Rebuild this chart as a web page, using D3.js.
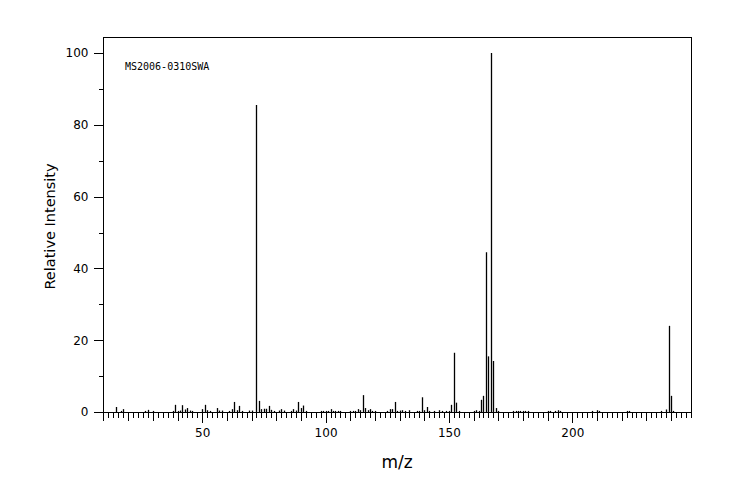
<!DOCTYPE html>
<html><head><meta charset="utf-8">
<script src="https://cdn.jsdelivr.net/npm/d3@7"></script>
<style>body{margin:0;background:#fff}svg{display:block}</style>
</head><body>
<script>
const mz = [15,17,18,27,28,30,38,39,40,41,42,43,44,45,46,50,51,52,53,56,57,58,61,62,63,64,65,66,69,70,
72,73,74,75,76,77,78,79,81,82,83,86,87,88,89,90,91,92,98,99,100,101,102,103,104,105,106,
110,111,112,113,114,115,116,117,118,119,120,125,126,127,128,129,130,131,132,134,137,138,139,140,141,142,144,146,147,149,150,
151,152,153,154,160,161,162,163,164,165,166,167,168,169,170,176,177,178,179,180,181,182,
190,191,193,194,195,208,210,211,222,223,236,238,239,240,241];
const intensity = [1.4,0.3,0.8,0.3,0.6,0.3,0.3,2.0,0.3,0.4,1.9,0.7,1.1,0.4,0.3,0.8,2.0,0.5,0.3,1.1,0.4,0.4,0.3,0.8,2.8,0.5,1.7,0.3,0.4,0.4,
85.5,3.1,0.8,0.9,0.9,1.7,0.6,0.3,0.4,0.8,0.4,0.3,0.8,0.4,2.8,1.1,1.8,0.3,0.3,0.3,0.3,0.3,0.8,0.3,0.3,0.3,0.3,
0.3,0.3,0.3,0.8,0.5,4.7,1.1,0.5,0.8,0.3,0.3,0.3,0.8,0.8,2.8,0.3,0.4,0.5,0.3,0.5,0.3,0.3,4.1,0.5,1.4,0.3,0.3,0.5,0.3,0.3,0.3,
2.0,16.5,2.6,0.3,0.3,0.5,0.3,3.4,4.5,44.5,15.5,100,14.2,1.1,0.3,0.3,0.3,0.3,0.3,0.3,0.3,0.3,
0.3,0.3,0.3,0.5,0.3,0.3,0.5,0.3,0.3,0.3,0.3,0.7,24.0,4.5,0.3];
const xLabelTicks = [50,100,150,200];
const yLabelTicks = [0,20,40,60,80,100];
const sampleId = "MS2006-0310SWA";
const xTitle = "m/z";
const yTitle = "Relative Intensity";

const W = 744, H = 500;
const mLeft = 103, mRight = 691, mTop = 37, mBottom = 412;
const svg = d3.select("body").append("svg").attr("width", W).attr("height", H);

const x = d3.scaleLinear().domain([9.8, 248.1]).range([mLeft, mRight]);
const y = d3.scaleLinear().domain([0, 100]).range([mBottom, 53]);

const font = "'DejaVu Sans', sans-serif";

// frame
svg.append("rect").attr("x", mLeft + 0.5).attr("y", mTop + 0.5)
  .attr("width", mRight - mLeft).attr("height", mBottom - mTop)
  .attr("fill", "none").attr("stroke", "#000").attr("stroke-width", 1)
  .attr("shape-rendering", "crispEdges");

// x axis ticks
const xMinor = d3.range(10, 249, 2);
const xMid = d3.range(10, 249, 10);
function xAxis(vals, size, labels) {
  const g = svg.append("g").attr("transform", `translate(0,${mBottom + 0.5})`)
    .call(d3.axisBottom(x).tickValues(vals).tickSize(size).tickPadding(6)
      .tickFormat(labels ? d3.format("d") : () => ""));
  g.select(".domain").remove();
  g.selectAll("line").attr("shape-rendering", "crispEdges");
  g.selectAll("text").attr("font-family", font).attr("font-size", 12).attr("fill", "#000");
}
xAxis(xMinor, 5, false);
xAxis(xMid, 8, false);
xAxis(xLabelTicks, 10, true);

// y axis ticks
function yAxis(vals, size, labels) {
  const g = svg.append("g").attr("transform", `translate(${mLeft + 0.5},0)`)
    .call(d3.axisLeft(y).tickValues(vals).tickSize(size).tickPadding(5)
      .tickFormat(labels ? d3.format("d") : () => ""));
  g.select(".domain").remove();
  g.selectAll("line").attr("shape-rendering", "crispEdges");
  g.selectAll("text").attr("font-family", font).attr("font-size", 12).attr("fill", "#000");
}
yAxis([10,30,50,70,90], 5, false);
yAxis(yLabelTicks, 10, true);

// bars
const data = mz.map((m, i) => ({m, v: intensity[i]}));
svg.append("g").selectAll("line").data(data).join("line")
  .attr("x1", d => Math.round(x(d.m)) + 0.5).attr("x2", d => Math.round(x(d.m)) + 0.5)
  .attr("y1", y(0)).attr("y2", d => y(d.v))
  .attr("stroke", "#000").attr("stroke-width", 1.3);

// sample id
svg.append("text").attr("x", 125).attr("y", 70).text(sampleId)
  .attr("font-family", "'DejaVu Sans Mono', monospace").attr("font-size", 10).attr("fill", "#000");

// titles
svg.append("text").attr("x", (mLeft + mRight) / 2).attr("y", 468).attr("text-anchor", "middle")
  .attr("font-family", font).attr("font-size", 17).attr("fill", "#000").text(xTitle);
svg.append("text").attr("transform", `translate(55,${(mTop + mBottom) / 2 + 2}) rotate(-90)`)
  .attr("text-anchor", "middle").attr("font-family", font).attr("font-size", 14.5)
  .attr("fill", "#000").text(yTitle);
</script>
</body></html>
